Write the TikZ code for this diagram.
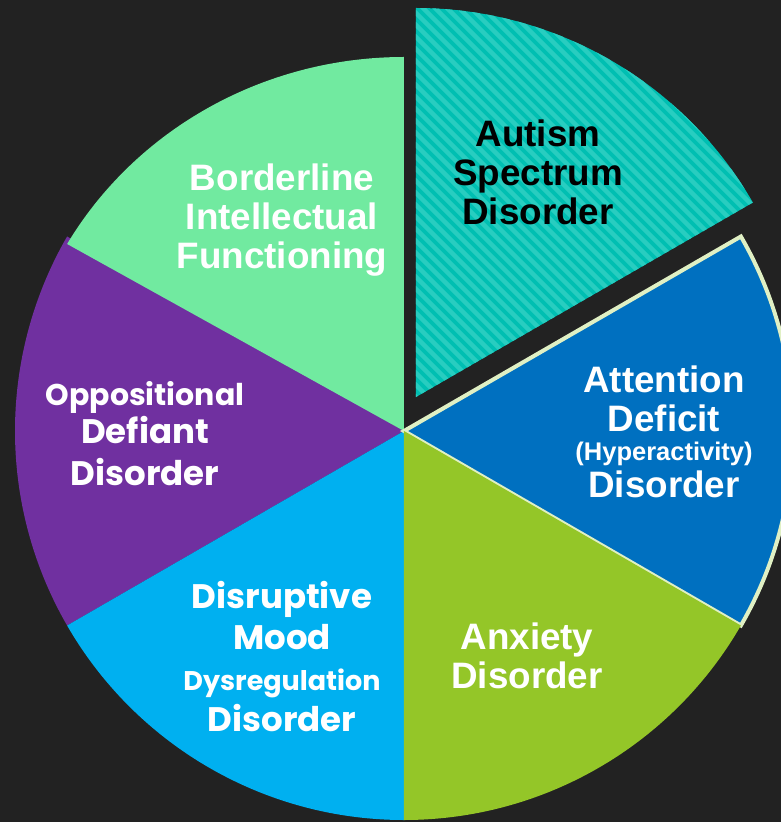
\documentclass[tikz,border=0pt]{standalone}
\usepackage{fontspec}
\setmainfont{Liberation Sans}
\newfontfamily\gothic{Poppins}

\definecolor{bgdark}{RGB}{34,34,34}
\definecolor{asdteal}{RGB}{0,191,178}
\definecolor{asdstripe}{RGB}{40,205,192}
\definecolor{bifgreen}{RGB}{113,234,160}
\definecolor{oddpurple}{RGB}{112,48,160}
\definecolor{dmddblue}{RGB}{0,176,240}
\definecolor{anxgreen}{RGB}{148,198,40}
\definecolor{adhdblue}{RGB}{0,112,192}
\definecolor{adhdedge}{RGB}{224,240,196}

\tikzset{
  label/.style={align=center, anchor=base, text=white,
    font=\bfseries\fontsize{36.8}{39}\selectfont},
  gothiclabel/.style={label, font=\gothic\bfseries\fontsize{34}{41}\selectfont}
}

\begin{document}
\begin{tikzpicture}[x=1pt,y=1pt]
    \useasboundingbox[fill=bgdark] (-404,-391) rectangle (377,431);

    % slices round the centre
    \fill[oddpurple] (0,0) -- (150:389) arc[start angle=150, end angle=210, radius=389] -- cycle;
    \fill[dmddblue] (0,0) -- (210:389) arc[start angle=210, end angle=270, radius=389] -- cycle;
    \fill[bifgreen] (0,0) -- (0,374) arc[start angle=90, end angle=150, x radius=389, y radius=374] -- cycle;
    \filldraw[fill=adhdblue, draw=adhdedge, line width=4pt, line join=miter]
        (0,0) -- (-30:389) arc[start angle=-30, end angle=30, radius=389] -- cycle;
    \fill[anxgreen] (0,0) -- (270:389) arc[start angle=270, end angle=330, radius=389] -- cycle;

    % pulled out slice, striped
    \begin{scope}[shift={(12,34)}]
        \fill[asdteal] (0,0) -- (30:389) arc[start angle=30, end angle=90, radius=389] -- cycle;
        \clip (0,0) -- (30:389) arc[start angle=30, end angle=90, radius=389] -- cycle;
        \foreach \k in {-10,...,70}
            \draw[asdstripe, line width=4.5pt] (\k*12-420,420) -- ++(840,-840);
    \end{scope}

    % labels (anchored on the last line)
    \node[label, text=black] (asd) at (134,206) {Autism\\Spectrum\\Disorder};
    \node[label] (bif) at (-122,162) {Borderline\\Intellectual\\Functioning};
    \node[label] (adhd) at (260,-66)
        {Attention\\Deficit\\[-10pt]{\fontsize{25.5}{30}\selectfont(Hyperactivity)}\\[-2pt]Disorder};
    \node[label] (anx) at (123,-257) {Anxiety\\Disorder};
    \node[gothiclabel] (odd) at (-259,-54)
        {{\fontsize{30}{36}\selectfont Oppositional}\\[-3pt]Defiant\\[1pt]Disorder};
    \node[gothiclabel] (dmdd) at (-122,-300)
        {Disruptive\\Mood\\{\fontsize{27}{33}\selectfont Dysregulation}\\Disorder};
\end{tikzpicture}
\end{document}
